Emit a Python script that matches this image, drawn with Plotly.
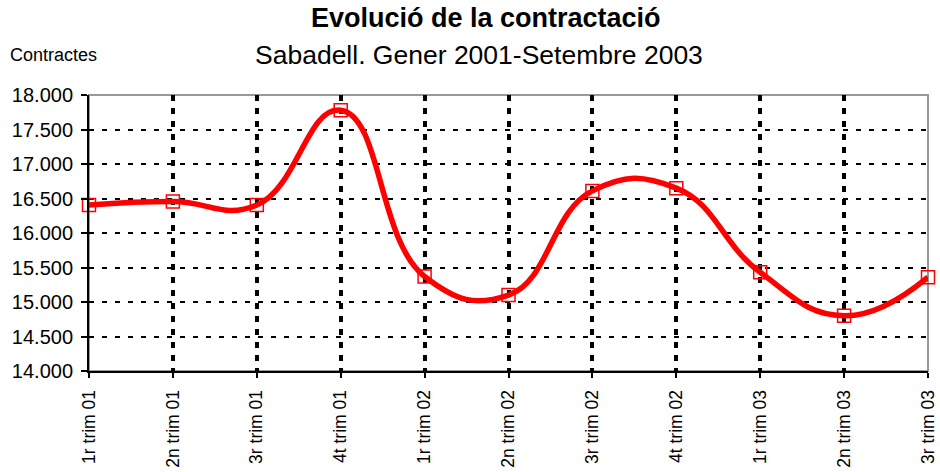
import plotly.graph_objects as go

categories = ["1r trim 01", "2n trim 01", "3r trim 01", "4t trim 01",
              "1r trim 02", "2n trim 02", "3r trim 02", "4t trim 02",
              "1r trim 03", "2n trim 03", "3r trim 03"]
contractes = [16405, 16455, 16405, 17780, 15370, 15100, 16610, 16650, 15430, 14800, 15360]

FONT = "Liberation Sans, Arial, sans-serif"

fig = go.Figure()
fig.add_trace(go.Scatter(
    x=categories, y=contractes, mode="lines+markers",
    line=dict(color="#ff0000", width=5.5, shape="spline", smoothing=1.3),
    marker=dict(symbol="square-open", size=13, color="#ff0000", line=dict(width=1.5, color="#ff0000")),
    cliponaxis=False, showlegend=False,
))

fig.update_layout(
    width=940, height=472,
    margin=dict(l=89, r=12, t=95, b=101, autoexpand=False),
    paper_bgcolor="white", plot_bgcolor="white",
    separators=",.",
    font=dict(family=FONT, color="black"),
    xaxis=dict(
        type="category", range=[0, 10], tickangle=-90, automargin=False,
        showline=True, linecolor="black", linewidth=2,
        ticks="outside", ticklen=5, tickcolor="black", tickwidth=2,
        showgrid=True, gridcolor="black", gridwidth=4, griddash="6px,7px",
        tickfont=dict(size=17.5, family=FONT, color="black"),
        ticklabelstandoff=5,
        zeroline=False,
    ),
    yaxis=dict(
        range=[14000, 18000], dtick=500, tickformat=",.0f", automargin=False,
        showline=True, linecolor="black", linewidth=2,
        ticks="outside", ticklen=6, tickcolor="black", tickwidth=2,
        showgrid=True, gridcolor="black", gridwidth=2, griddash="5px,8px",
        tickfont=dict(size=20, family=FONT, color="black"),
        ticklabelstandoff=4,
        zeroline=False,
    ),
    shapes=[dict(type="rect", xref="paper", yref="paper", x0=0, x1=1, y0=0, y1=1,
                 line=dict(color="#999999", width=2), layer="below")],
    annotations=[
        dict(text="<b>Evolució de la contractació</b>", xref="paper", yref="paper",
             x=(486 - 89) / 839, y=(371 - 18) / 276, xanchor="center", yanchor="middle",
             showarrow=False, font=dict(size=27, family=FONT, color="black")),
        dict(text="Sabadell. Gener 2001-Setembre 2003", xref="paper", yref="paper",
             x=(479 - 89) / 839, y=(371 - 55) / 276, xanchor="center", yanchor="middle",
             showarrow=False, font=dict(size=26.5, family=FONT, color="black")),
        dict(text="Contractes", xref="paper", yref="paper",
             x=(8 - 89) / 839, y=(371 - 55) / 276, xanchor="left", yanchor="middle",
             showarrow=False, font=dict(size=18, family=FONT, color="black")),
    ],
)

fig.write_html("out.html", config={"displayModeBar": False},
               post_script="document.body.style.margin='0';document.body.style.overflow='hidden';")
